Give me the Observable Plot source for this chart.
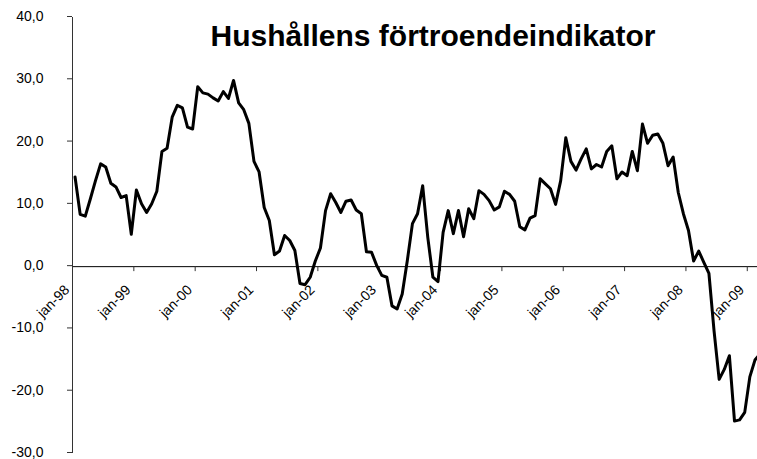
<!DOCTYPE html>
<html><head><meta charset="utf-8">
<script src="https://cdn.jsdelivr.net/npm/d3@7"></script>
<script src="https://cdn.jsdelivr.net/npm/@observablehq/plot@0.6"></script>
<style>body{margin:0;background:#fff}</style>
</head><body><div id="chart"></div>
<script>
const title = "Hushållens förtroendeindikator";
// monthly values, jan-98 .. mar-09
const values = [
  14.4, 8.4, 8.1, 10.9, 13.8, 16.5, 16.0, 13.4, 12.8, 11.1, 11.4, 5.2,
  12.3, 10.1, 8.7, 10.1, 12.1, 18.5, 19.0, 24.0, 25.9, 25.5, 22.4, 22.1,
  28.9, 27.9, 27.7, 27.1, 26.6, 28.1, 27.0, 29.9, 26.3, 25.2, 23.0, 16.9,
  15.2, 9.5, 7.4, 1.9, 2.5, 5.0, 4.2, 2.6, -2.7, -2.9, -1.7, 0.9,
  3.0, 9.0, 11.7, 10.3, 8.7, 10.5, 10.7, 9.1, 8.5, 2.4, 2.3, 0.2,
  -1.4, -1.7, -6.3, -6.8, -4.4, 1.0, 6.9, 8.5, 13.0, 4.7, -1.7, -2.4,
  5.5, 9.0, 5.3, 9.0, 4.8, 9.3, 7.7, 12.2, 11.6, 10.6, 9.1, 9.6,
  12.1, 11.6, 10.5, 6.4, 5.9, 7.8, 8.2, 14.1, 13.3, 12.5, 10.0, 13.8,
  20.7, 16.9, 15.5, 17.3, 18.9, 15.7, 16.4, 16.0, 18.5, 19.4, 14.1, 15.2,
  14.6, 18.5, 15.4, 22.9, 19.8, 21.1, 21.3, 19.8, 16.2, 17.6, 11.9, 8.5,
  5.8, 0.9, 2.5, 0.7, -1.1, -10.3, -18.1, -16.5, -14.3, -24.8, -24.6, -23.4,
  -17.7, -15.0, -14.0
];
const yearLabels = ["jan-98","jan-99","jan-00","jan-01","jan-02","jan-03","jan-04","jan-05","jan-06","jan-07","jan-08","jan-09"];
const yTicks = [-30, -20, -10, 0, 10, 20, 30, 40];

const data = values.map((v, i) => ({i, v}));
const yearTicks = yearLabels.map((label, k) => ({label, m: k * 12}));
const fmt = d => d.toFixed(1).replace(".", ",");

const chart = Plot.plot({
  width: 757, height: 459,
  marginLeft: 72, marginRight: 0, marginTop: 17, marginBottom: 6,
  style: {fontFamily: "'Liberation Sans', Arial, sans-serif", background: "white", color: "black"},
  x: {type: "linear", domain: [0, 134], axis: null},
  y: {domain: [-30, 40], axis: null},
  marks: [
    Plot.axisY(yTicks, {tickFormat: fmt, tickSize: 5, tickPadding: 24, fontSize: 14, stroke: "#333", label: null, dy: -1}),
    Plot.ruleX([0], {stroke: "#333"}),
    Plot.ruleY([0], {stroke: "black"}),
    Plot.ruleX(yearTicks, {x: "m", y1: 0, y2: -0.8, stroke: "#333"}),
    Plot.text(yearTicks, {x: d => d.m + 0.5, y: 0, text: "label", rotate: -45, textAnchor: "end", dx: -8, dy: 21, fontSize: 14}),
    Plot.line(data, {x: d => d.i + 0.5, y: "v", stroke: "black", strokeWidth: 3, clip: true}),
    Plot.text([title], {frameAnchor: "top", dx: 18, dy: 7, lineAnchor: "top", fontSize: 30, fontWeight: "bold"})
  ]
});
document.getElementById("chart").append(chart);
</script>
</body></html>
